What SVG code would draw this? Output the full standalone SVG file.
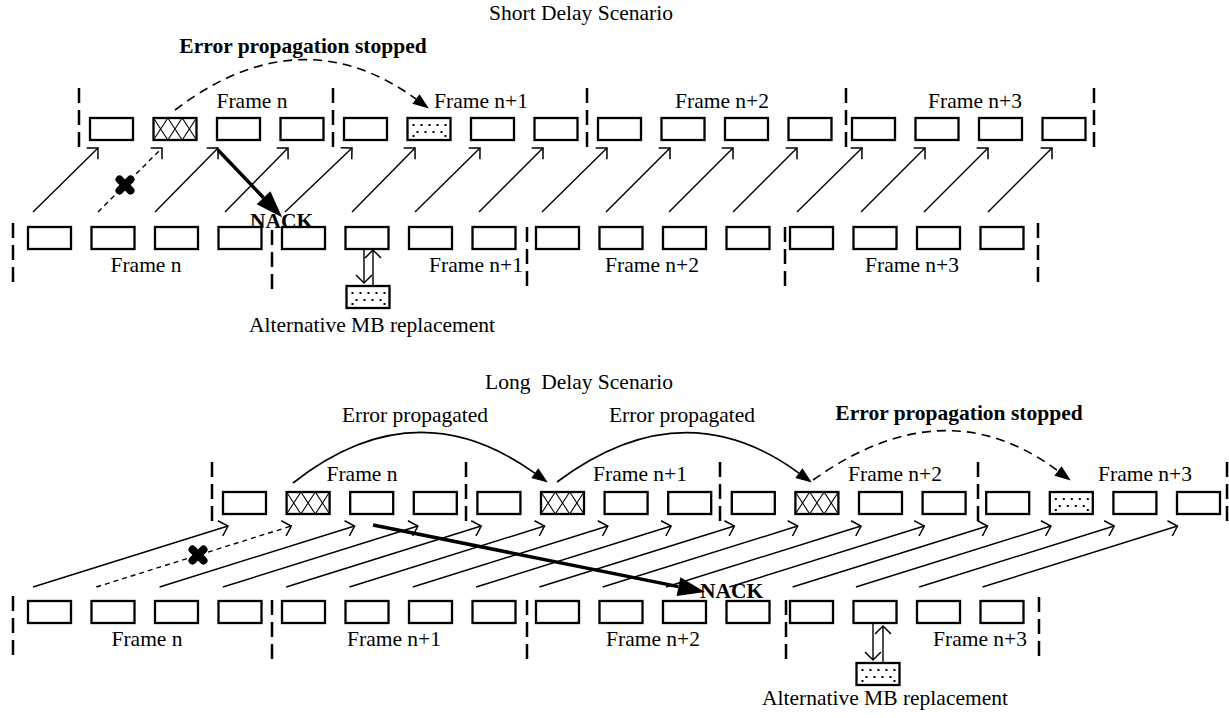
<svg xmlns="http://www.w3.org/2000/svg" width="1229" height="718" viewBox="0 0 1229 718">
<style>
text{font-family:"Liberation Serif","Times New Roman",serif;font-size:21.5px;fill:#000}
.b{font-weight:bold}
.m{text-anchor:middle}
.box{fill:#fff;stroke:#000;stroke-width:2.3}
.div{stroke:#000;stroke-width:2.5;stroke-dasharray:15 7;fill:none}
.arr{stroke:#000;stroke-width:1.4;fill:none;marker-end:url(#open)}
.dsh{stroke-dasharray:5 4}
.curve{stroke:#000;stroke-width:1.6;fill:none;marker-end:url(#fhead)}
.dcurve{stroke-dasharray:9 6}
.nack{stroke:#000;stroke-width:3.5;fill:none;marker-end:url(#nhead)}
.x{stroke:#000;stroke-width:8;stroke-linecap:round}
.h{stroke:#000;stroke-width:1.1}
</style>
<defs>
<marker id="open" markerUnits="userSpaceOnUse" markerWidth="24" markerHeight="24" viewBox="-12 -12 24 24" refX="0" refY="0" orient="auto"><path d="M-8,-8 L0,0 L-8,8" fill="none" stroke="#000" stroke-width="1.5"/></marker>
<marker id="fhead" markerUnits="userSpaceOnUse" markerWidth="20" markerHeight="20" viewBox="-2 -10 20 20" refX="0" refY="0" orient="auto"><path d="M0,-6 L16,0 L0,6 Z" fill="#000"/></marker>
<marker id="nhead" markerUnits="userSpaceOnUse" markerWidth="32" markerHeight="32" viewBox="-2 -16 32 32" refX="0" refY="0" orient="auto"><path d="M0,-9.5 L27,0 L0,9.5 Z" fill="#000"/></marker>
<g id="hb"><rect class="box" x="0" y="0" width="43" height="22"/><path class="h" d="M0,0 L14.3,22 M14.3,0 L0,22 M14.3,0 L28.7,22 M28.7,0 L14.3,22 M28.7,0 L43,22 M43,0 L28.7,22"/></g>
<g id="db"><rect class="box" x="0" y="0" width="43" height="22"/><g fill="#000"><rect x="5" y="6" width="2" height="2"/><rect x="13" y="6" width="2" height="2"/><rect x="21" y="6" width="2" height="2"/><rect x="29" y="6" width="2" height="2"/><rect x="37" y="6" width="2" height="2"/><rect x="9" y="13" width="2" height="2"/><rect x="17" y="13" width="2" height="2"/><rect x="25" y="13" width="2" height="2"/><rect x="33" y="13" width="2" height="2"/><rect x="5" y="17" width="2" height="2"/><rect x="37" y="17" width="2" height="2"/></g></g>
</defs>
<rect width="1229" height="718" fill="#fff"/>

<!-- ===== SHORT DELAY ===== -->
<g id="short-labels">
<text class="m" x="581" y="20">Short Delay Scenario</text>
<text class="m b" x="303" y="53">Error propagation stopped</text>
<text class="m" x="252" y="108">Frame n</text>
<text class="m" x="481" y="108">Frame n+1</text>
<text class="m" x="722" y="108">Frame n+2</text>
<text class="m" x="975" y="108">Frame n+3</text>
<text class="m" x="146" y="272">Frame n</text>
<text class="m" x="476" y="272">Frame n+1</text>
<text class="m" x="652" y="272">Frame n+2</text>
<text class="m" x="912" y="272">Frame n+3</text>
<text x="249" y="332">Alternative MB replacement</text>
</g>
<g id="short-dividers">
<line class="div" x1="79" y1="88" x2="79" y2="150"/>
<line class="div" x1="333" y1="88" x2="333" y2="150"/>
<line class="div" x1="587" y1="88" x2="587" y2="150"/>
<line class="div" x1="846" y1="88" x2="846" y2="150"/>
<line class="div" x1="1094" y1="88" x2="1094" y2="150"/>
<line class="div" x1="13" y1="223" x2="13" y2="285"/>
<line class="div" x1="272" y1="230" x2="272" y2="290"/>
<line class="div" x1="527" y1="227" x2="527" y2="288"/>
<line class="div" x1="785" y1="227" x2="785" y2="288"/>
<line class="div" x1="1038" y1="223" x2="1038" y2="285"/>
</g>
<g id="s-up-1"><rect class="box" x="90" y="118" width="43" height="22"/></g>
<g id="s-up-2"><use href="#hb" x="153.5" y="118"/></g>
<g id="s-up-3"><rect class="box" x="217" y="118" width="43" height="22"/></g>
<g id="s-up-4"><rect class="box" x="280.5" y="118" width="43" height="22"/></g>
<g id="s-up-5"><rect class="box" x="344" y="118" width="43" height="22"/></g>
<g id="s-up-6"><use href="#db" x="407.5" y="118"/></g>
<g id="s-up-7"><rect class="box" x="471" y="118" width="43" height="22"/></g>
<g id="s-up-8"><rect class="box" x="534.5" y="118" width="43" height="22"/></g>
<g id="s-up-9"><rect class="box" x="598" y="118" width="43" height="22"/></g>
<g id="s-up-10"><rect class="box" x="661.5" y="118" width="43" height="22"/></g>
<g id="s-up-11"><rect class="box" x="725" y="118" width="43" height="22"/></g>
<g id="s-up-12"><rect class="box" x="788.5" y="118" width="43" height="22"/></g>
<g id="s-up-13"><rect class="box" x="852" y="118" width="43" height="22"/></g>
<g id="s-up-14"><rect class="box" x="915.5" y="118" width="43" height="22"/></g>
<g id="s-up-15"><rect class="box" x="979" y="118" width="43" height="22"/></g>
<g id="s-up-16"><rect class="box" x="1042.5" y="118" width="43" height="22"/></g>

<g id="s-lo-1"><rect class="box" x="28" y="227" width="43" height="22"/></g>
<g id="s-lo-2"><rect class="box" x="91.5" y="227" width="43" height="22"/></g>
<g id="s-lo-3"><rect class="box" x="155" y="227" width="43" height="22"/></g>
<g id="s-lo-4"><rect class="box" x="218.5" y="227" width="43" height="22"/></g>
<g id="s-lo-5"><rect class="box" x="282" y="227" width="43" height="22"/></g>
<g id="s-lo-6"><rect class="box" x="345.5" y="227" width="43" height="22"/></g>
<g id="s-lo-7"><rect class="box" x="409" y="227" width="43" height="22"/></g>
<g id="s-lo-8"><rect class="box" x="472.5" y="227" width="43" height="22"/></g>
<g id="s-lo-9"><rect class="box" x="536" y="227" width="43" height="22"/></g>
<g id="s-lo-10"><rect class="box" x="599.5" y="227" width="43" height="22"/></g>
<g id="s-lo-11"><rect class="box" x="663" y="227" width="43" height="22"/></g>
<g id="s-lo-12"><rect class="box" x="726.5" y="227" width="43" height="22"/></g>
<g id="s-lo-13"><rect class="box" x="790" y="227" width="43" height="22"/></g>
<g id="s-lo-14"><rect class="box" x="853.5" y="227" width="43" height="22"/></g>
<g id="s-lo-15"><rect class="box" x="917" y="227" width="43" height="22"/></g>
<g id="s-lo-16"><rect class="box" x="980.5" y="227" width="43" height="22"/></g>
<g id="s-alt"><use href="#db" x="346.5" y="286"/></g>

<g id="short-connectors">
<line class="arr" x1="33" y1="212" x2="98" y2="148"/>
<line class="arr dsh" x1="98" y1="212" x2="162" y2="148"/>
<line class="arr" x1="155" y1="212" x2="218" y2="148"/>
<line class="arr" x1="225" y1="212" x2="288" y2="148"/>
<line class="arr" x1="285" y1="212" x2="352" y2="148"/>
<line class="arr" x1="352" y1="212" x2="415" y2="148"/>
<line class="arr" x1="415" y1="212" x2="480" y2="148"/>
<line class="arr" x1="479" y1="212" x2="543" y2="148"/>
<line class="arr" x1="542" y1="212" x2="607" y2="148"/>
<line class="arr" x1="606" y1="212" x2="670" y2="148"/>
<line class="arr" x1="669" y1="212" x2="733" y2="148"/>
<line class="arr" x1="733" y1="212" x2="797" y2="148"/>
<line class="arr" x1="797" y1="212" x2="862" y2="148"/>
<line class="arr" x1="861" y1="212" x2="925" y2="148"/>
<line class="arr" x1="924" y1="212" x2="988" y2="148"/>
<line class="arr" x1="988" y1="212" x2="1052" y2="148"/>
<path class="curve dcurve" d="M175,110 Q300,15 416,99"/>
<line class="nack" x1="218" y1="150" x2="263.5" y2="197.7"/>
<line class="arr" x1="364" y1="249" x2="364" y2="283"/>
<line class="arr" x1="373" y1="286" x2="373" y2="250"/>
<g id="s-x"><line class="x" x1="119.5" y1="179.5" x2="130.5" y2="190.5"/><line class="x" x1="130.5" y1="179.5" x2="119.5" y2="190.5"/></g>
</g>
<text class="b" x="250" y="228">NACK</text>

<!-- ===== LONG DELAY ===== -->
<g id="long-labels">
<text x="485" y="389" xml:space="preserve">Long  Delay Scenario</text>
<text class="m" x="415" y="422">Error propagated</text>
<text class="m" x="682" y="422">Error propagated</text>
<text class="m b" x="959" y="420">Error propagation stopped</text>
<text class="m" x="362" y="481">Frame n</text>
<text class="m" x="640" y="481">Frame n+1</text>
<text class="m" x="895" y="481">Frame n+2</text>
<text class="m" x="1145" y="481">Frame n+3</text>
<text class="m" x="147" y="646">Frame n</text>
<text class="m" x="394" y="646">Frame n+1</text>
<text class="m" x="653" y="646">Frame n+2</text>
<text class="m" x="980" y="646">Frame n+3</text>
<text x="762" y="705">Alternative MB replacement</text>
</g>
<g id="long-dividers">
<line class="div" x1="212" y1="462" x2="212" y2="523"/>
<line class="div" x1="466" y1="462" x2="466" y2="523"/>
<line class="div" x1="720" y1="462" x2="720" y2="523"/>
<line class="div" x1="978" y1="462" x2="978" y2="523"/>
<line class="div" x1="1227" y1="462" x2="1227" y2="523"/>
<line class="div" x1="13" y1="596" x2="13" y2="657"/>
<line class="div" x1="272" y1="600" x2="272" y2="663"/>
<line class="div" x1="527" y1="600" x2="527" y2="662"/>
<line class="div" x1="786" y1="600" x2="786" y2="662"/>
<line class="div" x1="1039" y1="597" x2="1039" y2="657"/>
</g>
<g id="l-up-1"><rect class="box" x="223" y="492" width="43" height="22"/></g>
<g id="l-up-2"><use href="#hb" x="286.6" y="492"/></g>
<g id="l-up-3"><rect class="box" x="350.2" y="492" width="43" height="22"/></g>
<g id="l-up-4"><rect class="box" x="413.8" y="492" width="43" height="22"/></g>
<g id="l-up-5"><rect class="box" x="477.4" y="492" width="43" height="22"/></g>
<g id="l-up-6"><use href="#hb" x="541" y="492"/></g>
<g id="l-up-7"><rect class="box" x="604.6" y="492" width="43" height="22"/></g>
<g id="l-up-8"><rect class="box" x="668.2" y="492" width="43" height="22"/></g>
<g id="l-up-9"><rect class="box" x="731.8" y="492" width="43" height="22"/></g>
<g id="l-up-10"><use href="#hb" x="795.4" y="492"/></g>
<g id="l-up-11"><rect class="box" x="859" y="492" width="43" height="22"/></g>
<g id="l-up-12"><rect class="box" x="922.6" y="492" width="43" height="22"/></g>
<g id="l-up-13"><rect class="box" x="986.2" y="492" width="43" height="22"/></g>
<g id="l-up-14"><use href="#db" x="1049.8" y="492"/></g>
<g id="l-up-15"><rect class="box" x="1113.4" y="492" width="43" height="22"/></g>
<g id="l-up-16"><rect class="box" x="1177" y="492" width="43" height="22"/></g>

<g id="l-lo-1"><rect class="box" x="28" y="601" width="43" height="22"/></g>
<g id="l-lo-2"><rect class="box" x="91.5" y="601" width="43" height="22"/></g>
<g id="l-lo-3"><rect class="box" x="155" y="601" width="43" height="22"/></g>
<g id="l-lo-4"><rect class="box" x="218.5" y="601" width="43" height="22"/></g>
<g id="l-lo-5"><rect class="box" x="282" y="601" width="43" height="22"/></g>
<g id="l-lo-6"><rect class="box" x="345.5" y="601" width="43" height="22"/></g>
<g id="l-lo-7"><rect class="box" x="409" y="601" width="43" height="22"/></g>
<g id="l-lo-8"><rect class="box" x="472.5" y="601" width="43" height="22"/></g>
<g id="l-lo-9"><rect class="box" x="536" y="601" width="43" height="22"/></g>
<g id="l-lo-10"><rect class="box" x="599.5" y="601" width="43" height="22"/></g>
<g id="l-lo-11"><rect class="box" x="663" y="601" width="43" height="22"/></g>
<g id="l-lo-12"><rect class="box" x="726.5" y="601" width="43" height="22"/></g>
<g id="l-lo-13"><rect class="box" x="790" y="601" width="43" height="22"/></g>
<g id="l-lo-14"><rect class="box" x="853.5" y="601" width="43" height="22"/></g>
<g id="l-lo-15"><rect class="box" x="917" y="601" width="43" height="22"/></g>
<g id="l-lo-16"><rect class="box" x="980.5" y="601" width="43" height="22"/></g>
<g id="l-alt"><use href="#db" x="856.5" y="663"/></g>

<g id="long-connectors">
<line class="arr" x1="33" y1="587" x2="228" y2="526"/>
<line class="arr dsh" x1="96.3" y1="587" x2="291.3" y2="526"/>
<line class="arr" x1="159.6" y1="587" x2="354.6" y2="526"/>
<line class="arr" x1="222.9" y1="587" x2="417.9" y2="526"/>
<line class="arr" x1="286.2" y1="587" x2="481.2" y2="526"/>
<line class="arr" x1="349.5" y1="587" x2="544.5" y2="526"/>
<line class="arr" x1="412.8" y1="587" x2="607.8" y2="526"/>
<line class="arr" x1="476.1" y1="587" x2="671.1" y2="526"/>
<line class="arr" x1="539.4" y1="587" x2="734.4" y2="526"/>
<line class="arr" x1="602.7" y1="587" x2="797.7" y2="526"/>
<line class="arr" x1="666" y1="587" x2="861" y2="526"/>
<line class="arr" x1="729.3" y1="587" x2="924.3" y2="526"/>
<line class="arr" x1="792.6" y1="587" x2="987.6" y2="526"/>
<line class="arr" x1="855.9" y1="587" x2="1050.9" y2="526"/>
<line class="arr" x1="919.2" y1="587" x2="1114.2" y2="526"/>
<line class="arr" x1="982.5" y1="587" x2="1177.5" y2="526"/>
<path class="curve" d="M293,483 Q415,387 534.8,473.2"/>
<path class="curve" d="M557,482 Q683,388 798.9,473.1"/>
<path class="curve dcurve" d="M813,480 Q945,386 1058,471"/>
<line class="nack" x1="373" y1="525" x2="678.5" y2="586.6"/>
<line class="arr" x1="873" y1="623" x2="873" y2="660"/>
<line class="arr" x1="883" y1="663" x2="883" y2="626"/>
<g id="l-x"><line class="x" x1="192.5" y1="549.5" x2="203.5" y2="560.5"/><line class="x" x1="203.5" y1="549.5" x2="192.5" y2="560.5"/></g>
</g>
<text class="b" x="700" y="598">NACK</text>
</svg>
